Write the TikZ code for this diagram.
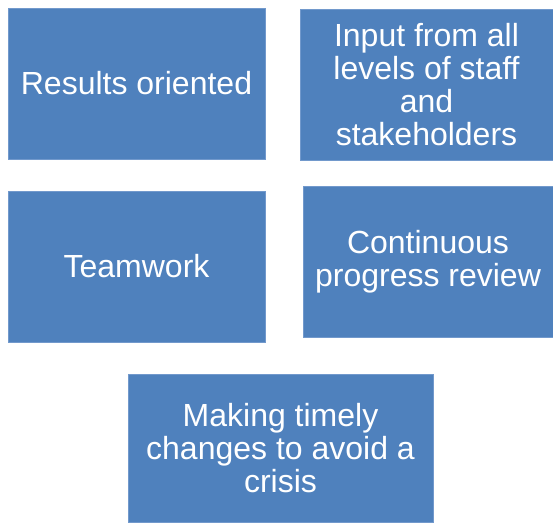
\documentclass[tikz,border=0pt]{standalone}
\usepackage{fontspec}
\setmainfont{Liberation Sans}
\usepackage{tikz}
\usetikzlibrary{positioning}
\definecolor{boxblue}{HTML}{4F81BD}
\definecolor{boxedge}{HTML}{7299CC}

\begin{document}
\begin{tikzpicture}[x=1pt,y=-1pt,
        box/.style={rectangle, fill=boxblue, draw=boxedge, line width=0.7pt,
                text=white, align=center, inner sep=0pt,
                font=\fontsize{32}{33}\selectfont}]
                \useasboundingbox (0,0) rectangle (553,522);

                \node[box, minimum width=257pt, minimum height=151pt] (results)  at (136.5,83.5)
                        {Results oriented};
                \node[box, minimum width=253pt, minimum height=151pt] (input)    at (426.5,84.5)
                        {Input from all\\levels of staff\\and\\stakeholders};

                \node[box, minimum width=257pt, minimum height=151pt] (teamwork) at (136.5,266.5)
                        {Teamwork};
                \node[box, minimum width=250pt, minimum height=151pt] (review)   at (428,261.5)
                        {Continuous\\progress review};

                \node[box, minimum width=305pt, minimum height=148pt] (changes)  at (280.5,448)
                        {Making timely\\changes to avoid a\\crisis};
            \end{tikzpicture}
\end{document}
